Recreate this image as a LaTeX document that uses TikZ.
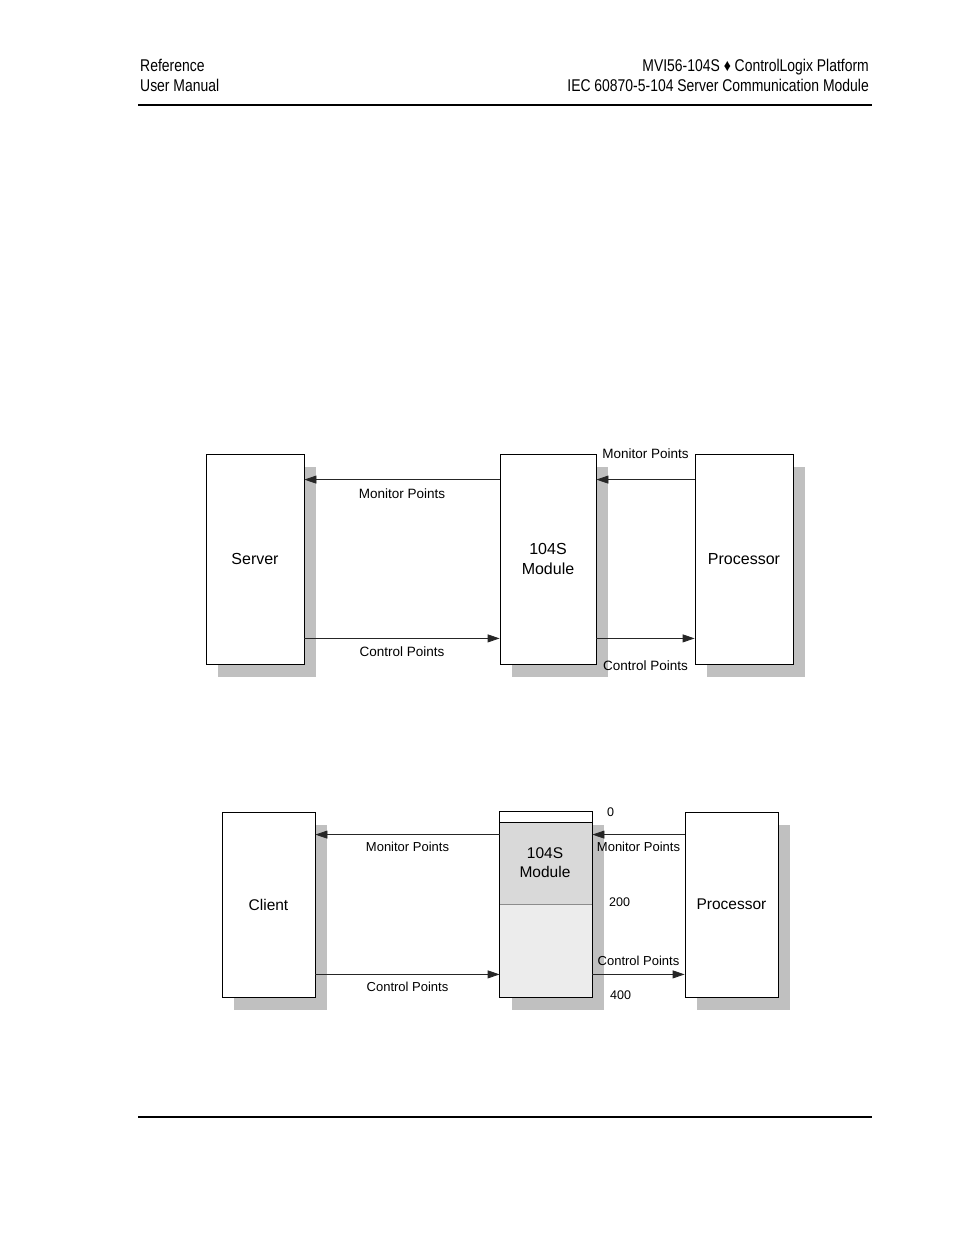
\documentclass[tikz,border=0pt]{standalone}
\usepackage{fontspec}
\setmainfont{Liberation Sans}
\newfontfamily\narrowfont[FakeStretch=0.82]{Liberation Sans}
\usetikzlibrary{positioning,shadows,arrows.meta}
\definecolor{shadowgrey}{RGB}{192,192,192}
\definecolor{darkfill}{RGB}{217,217,217}
\definecolor{lightfill}{RGB}{236,236,236}

\begin{document}
\begin{tikzpicture}[x=1pt,y=-1pt,
	box/.style={draw, rectangle, fill=white, line width=0.8pt, inner sep=0pt, align=center,
		font=\fontsize{16}{20}\selectfont,
		drop shadow={shadow xshift=12pt, shadow yshift=-13pt, fill=shadowgrey, opacity=1}},
	flow/.style={line width=0.8pt, draw=black!85, -{Triangle[length=12pt,width=8pt]}},
	lbl/.style={inner sep=1pt, font=\fontsize{13.5}{16}\selectfont},
	num/.style={inner sep=1pt, font=\fontsize{12.5}{15}\selectfont},
	hdr/.style={inner sep=0pt, font=\narrowfont\fontsize{17}{20}\selectfont}]
				\useasboundingbox (0,0) rectangle (954,1235);
				% page header and footer
				\node[hdr, anchor=base west] (reference) at (140,71) {Reference};
				\node[hdr, anchor=base west] (manual) at (140,91) {User Manual};
				\node[hdr, anchor=base east] (platform) at (869,71) {MVI56-104S ♦ ControlLogix Platform};
				\node[hdr, anchor=base east] (title) at (869,91) {IEC 60870-5-104 Server Communication Module};
				\draw[line width=1.1pt] (138,105) -- (872,105);
				\draw[line width=1.1pt] (138,1117) -- (872,1117);
				% server side
				\node[box, minimum width=98pt, minimum height=210pt] (server) at (255,559) {Server};
				\node[box, minimum width=96pt, minimum height=210pt] (module) at (548,559) {104S\\Module};
				\node[box, minimum width=98pt, minimum height=210pt] (processor) at (744,559) {Processor};
				\draw[flow] ([yshift=-26pt]module.north west) -- node[lbl, below=8pt] {Monitor Points} ([yshift=-26pt]server.north east);
				\draw[flow] ([yshift=26pt]server.south east) -- node[lbl, below=7pt] {Control Points} ([yshift=26pt]module.south west);
				\draw[flow] ([yshift=-26pt]processor.north west) -- node[lbl, above=20pt] {Monitor Points} ([yshift=-26pt]module.north east);
				\draw[flow] ([yshift=26pt]module.south east) -- node[lbl, below=21pt] {Control Points} ([yshift=26pt]processor.south west);
				% client side
				\node[box, minimum width=93pt, minimum height=185pt, font=\fontsize{15.5}{19.5}\selectfont] (client) at (268.5,904.5) {Client};
				\node[box, draw=none, fill=lightfill, minimum width=92pt, minimum height=185pt] (modmap) at (546,904.5) {};
				\node[box, minimum width=93pt, minimum height=185pt, font=\fontsize{15.5}{19.5}\selectfont] (processor2) at (731.5,904.5) {Processor};
				\fill[white] (modmap.north west) rectangle ([yshift=-11pt]modmap.north east);
				\fill[darkfill] ([yshift=-11pt]modmap.north west) rectangle ([yshift=-93pt]modmap.north east);
				\draw[line width=0.8pt, black!45] ([yshift=-93pt]modmap.north west) -- ([yshift=-93pt]modmap.north east);
				\draw[line width=0.8pt] ([yshift=-11pt]modmap.north west) -- ([yshift=-11pt]modmap.north east);
				\draw[line width=0.8pt] (modmap.north west) rectangle (modmap.south east);
				\node[align=center, font=\fontsize{15.5}{19.5}\selectfont] (modtext) at (545,862.5) {104S\\Module};
				\draw[flow] ([yshift=-23pt]modmap.north west) -- node[lbl, below=6pt, font=\fontsize{13}{15}\selectfont] {Monitor Points} ([yshift=-23pt]client.north east);
				\draw[flow] ([yshift=23pt]client.south east) -- node[lbl, below=6pt, font=\fontsize{13}{15}\selectfont] {Control Points} ([yshift=23pt]modmap.south west);
				\draw[flow] ([yshift=-23pt]processor2.north west) -- node[lbl, below=6pt, font=\fontsize{13}{15}\selectfont] {Monitor Points} ([yshift=-23pt]modmap.north east);
				\draw[flow] ([yshift=23pt]modmap.south east) -- node[lbl, above=7pt, font=\fontsize{13}{15}\selectfont] {Control Points} ([yshift=23pt]processor2.south west);
				\node[num, anchor=west] (addr0) at (606,812) {0};
				\node[num, anchor=west] (addr200) at (608,902) {200};
				\node[num, anchor=west] (addr400) at (609,995) {400};
				\end{tikzpicture}
\end{document}
